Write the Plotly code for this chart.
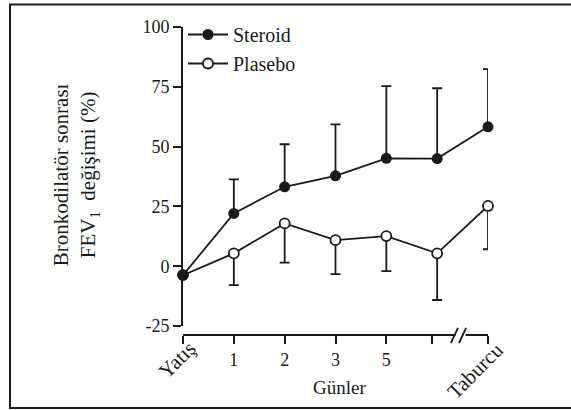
import plotly.graph_objects as go

# ---- data ----
x_pos = [0, 1, 2, 3, 4, 5, 6]
label_tick_vals = [1, 2, 3, 4]
label_tick_text = ["1", "2", "3", "5"]
plain_tick_vals = [0, 4.9, 6]
end_labels = ["Yatış", "Taburcu"]

steroid_y = [-3.7, 22.1, 33.2, 37.8, 45.1, 45.0, 58.3]
steroid_err_up = [0, 14.2, 17.8, 21.5, 30.2, 29.4, 24.1]

plasebo_y = [-3.7, 5.4, 17.9, 10.9, 12.6, 5.4, 25.2]
plasebo_err_down = [0, 13.3, 16.4, 14.2, 14.6, 19.5, 18.1]

y_ticks = [-25, 0, 25, 50, 75, 100]

FONT = "Liberation Serif"
INK = "#1a1a1a"

fig = go.Figure()

fig.add_trace(go.Scatter(
    x=x_pos, y=plasebo_y, name="Plasebo", mode="lines+markers",
    line=dict(color=INK, width=1.8),
    marker=dict(symbol="circle", size=10, color="white",
                line=dict(color=INK, width=1.8)),
    error_y=dict(type="data", symmetric=False,
                 array=[0] * len(plasebo_y), arrayminus=plasebo_err_down,
                 color=INK, thickness=1.8, width=5),
    cliponaxis=False, legendrank=2, legendgroup="p",
))
fig.add_trace(go.Scatter(
    x=x_pos, y=steroid_y, name="Steroid", mode="lines+markers",
    line=dict(color=INK, width=1.8),
    marker=dict(symbol="circle", size=11, color=INK),
    error_y=dict(type="data", symmetric=False,
                 array=steroid_err_up, arrayminus=[0] * len(steroid_y),
                 color=INK, thickness=1.8, width=5),
    cliponaxis=False, legendrank=1, legendgroup="s",
))

fig.update_layout(
    width=571, height=410,
    margin=dict(l=183, r=83, t=27, b=75),
    paper_bgcolor="white", plot_bgcolor="white",
    font=dict(family=FONT, size=18, color=INK),
    showlegend=True,
    legend=dict(x=0.0, y=1.039, xanchor="left", yanchor="top",
                bgcolor="rgba(0,0,0,0)", font=dict(family=FONT, size=20),
                tracegroupgap=0, itemwidth=40),
    xaxis=dict(range=[0, 6], anchor="free", position=0,
               showline=True, linecolor=INK, linewidth=2,
               ticks="outside", ticklen=8, tickwidth=1.5, tickcolor=INK,
               tickmode="array", tickvals=label_tick_vals,
               ticktext=label_tick_text,
               tickfont=dict(family=FONT, size=18),
               minor=dict(tickmode="array", tickvals=plain_tick_vals,
                          ticks="outside", ticklen=8, tickwidth=1.5,
                          tickcolor=INK, showgrid=False),
               showgrid=False, zeroline=False, fixedrange=True),
    yaxis=dict(range=[-25, 100], domain=[0.029, 1],
               showline=True, linecolor=INK, linewidth=2,
               ticks="outside", ticklen=8, tickwidth=1.5, tickcolor=INK,
               tickmode="array", tickvals=y_ticks,
               ticktext=[str(v) for v in y_ticks],
               tickfont=dict(family=FONT, size=18),
               showgrid=False, zeroline=False, fixedrange=True),
)

# rotated end labels (paper coordinates so they are not hidden off-range)
fig.add_annotation(x=(177 - 183) / 305, y=-0.081, xref="paper", yref="paper",
                   text=end_labels[0], textangle=-45, showarrow=False,
                   font=dict(family=FONT, size=21),
                   xanchor="center", yanchor="middle")
fig.add_annotation(x=(475 - 183) / 305, y=-0.117, xref="paper", yref="paper",
                   text=end_labels[1], textangle=-45, showarrow=False,
                   font=dict(family=FONT, size=21),
                   xanchor="center", yanchor="middle")
# axis titles
fig.add_annotation(x=(339 - 183) / 305, y=-0.169, xref="paper", yref="paper",
                   text="Günler", showarrow=False,
                   font=dict(family=FONT, size=19),
                   xanchor="center", yanchor="middle")
fig.add_annotation(x=(76 - 183) / 305, y=0.519, xref="paper", yref="paper",
                   text="Bronkodilatör sonrası<br>FEV<sub>1</sub>  değişimi (%)",
                   textangle=-90, showarrow=False,
                   font=dict(family=FONT, size=21),
                   xanchor="center", yanchor="middle")

# axis break
fig.add_shape(type="rect", xref="x", yref="paper", x0=5.36, x1=5.56,
              y0=-0.012, y1=0.012, fillcolor="white", line=dict(width=0),
              layer="above")
fig.add_shape(type="line", xref="x", yref="paper", x0=5.27, x1=5.41,
              y0=-0.026, y1=0.023, line=dict(color=INK, width=1.8), layer="above")
fig.add_shape(type="line", xref="x", yref="paper", x0=5.43, x1=5.57,
              y0=-0.026, y1=0.023, line=dict(color=INK, width=1.8), layer="above")

# outer frame
fig.add_shape(type="rect", xref="paper", yref="paper",
              x0=(10 - 183) / 305, x1=(580 - 183) / 305,
              y0=(335 - 408) / 308, y1=(335 - 4.5) / 308,
              line=dict(color=INK, width=2), fillcolor="rgba(0,0,0,0)",
              layer="above")

fig.write_html("out.html")
